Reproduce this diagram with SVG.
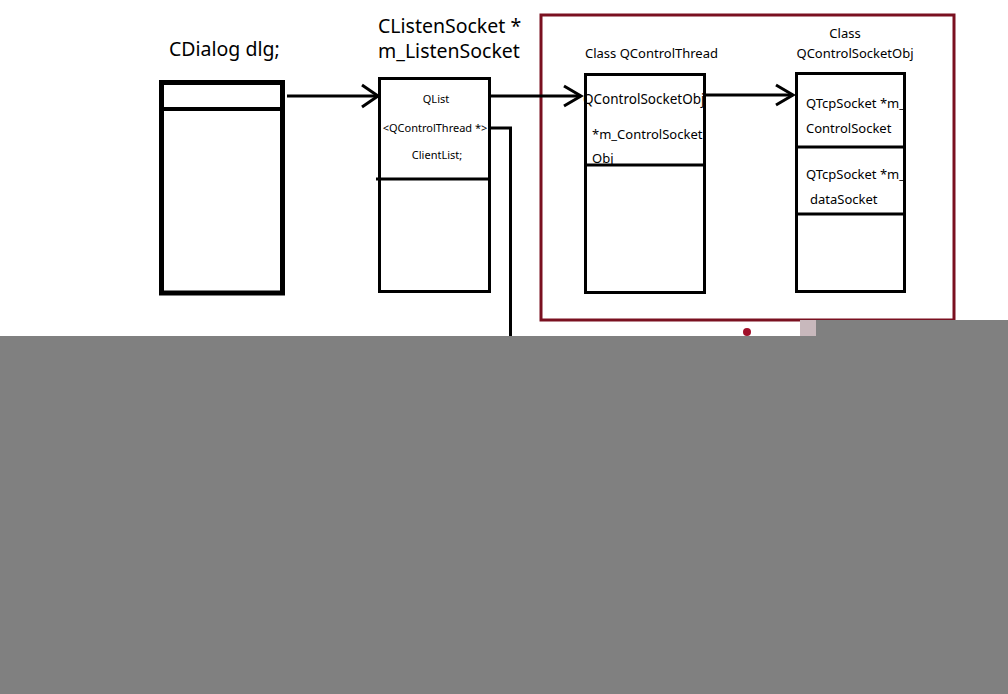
<svg xmlns="http://www.w3.org/2000/svg" width="1008" height="694" viewBox="0 0 1008 694">
<style>
.box{fill:#fff;stroke:#000;stroke-width:3}
.thick{fill:#fff;stroke:#000;stroke-width:5}
.ln{fill:none;stroke:#000;stroke-width:3}
.big{font-family:"Noto Sans","DejaVu Sans",sans-serif;font-size:19.5px;fill:#000}
.mid{font-family:"Noto Sans","DejaVu Sans",sans-serif;font-size:13px;fill:#000}
.sm{font-family:"Noto Sans","DejaVu Sans",sans-serif;font-size:11px;fill:#000}
</style>
<rect width="1008" height="694" fill="#fff"/>
<g id="frame">
<rect x="541" y="15" width="413" height="305" fill="none" stroke="#7a1020" stroke-width="3"/>
</g>
<g id="dlg">
<text class="big" x="169" y="56">CDialog dlg;</text>
<rect class="thick" x="161.5" y="82.5" width="121" height="210.5"/>
<line x1="161" y1="109" x2="283" y2="109" stroke="#000" stroke-width="4"/>
</g>
<g id="listen">
<text class="big" x="378" y="33">CListenSocket *</text>
<text class="big" x="378" y="58">m_ListenSocket</text>
<rect class="box" x="379.5" y="78.5" width="110" height="213"/>
<line x1="376" y1="179" x2="491" y2="179" stroke="#000" stroke-width="3"/>
<text class="sm" x="436" y="103" text-anchor="middle">QList</text>
<text class="sm" x="435" y="132" text-anchor="middle">&lt;QControlThread *&gt;</text>
<text class="sm" x="437" y="159" text-anchor="middle">ClientList;</text>
</g>
<g id="thread">
<text class="mid" x="585" y="58">Class QControlThread</text>
<rect class="box" x="585.5" y="74.5" width="119" height="218"/>
<line x1="585" y1="165" x2="705" y2="165" stroke="#000" stroke-width="3"/>
<text class="mid" x="583" y="104" style="font-size:13.5px">QControlSocketObj</text>
<text class="mid" x="592" y="139">*m_ControlSocket</text>
<text class="mid" x="592" y="163">Obj</text>
</g>
<g id="sockobj">
<text class="mid" x="845" y="38" text-anchor="middle">Class</text>
<text class="mid" x="855" y="58" text-anchor="middle">QControlSocketObj</text>
<rect class="box" x="796.5" y="73.5" width="108" height="218"/>
<line x1="796" y1="147" x2="905" y2="147" stroke="#000" stroke-width="3"/>
<line x1="796" y1="214" x2="905" y2="214" stroke="#000" stroke-width="3"/>
<text class="mid" x="806" y="108">QTcpSocket *m_</text>
<text class="mid" x="806" y="133">ControlSocket</text>
<text class="mid" x="806" y="179">QTcpSocket *m_</text>
<text class="mid" x="810" y="204">dataSocket</text>
</g>
<g id="connectors">
<polyline class="ln" points="287,96 377,96"/>
<polyline class="ln" points="362,85 378,96 362,107"/>
<polyline class="ln" points="491,96 581,96"/>
<polyline class="ln" points="564,86 581,96 564,106"/>
<polyline class="ln" points="705,95 793,95"/>
<polyline class="ln" points="776,85 793,95 776,105"/>
<polyline class="ln" points="491,128 510.5,128 510.5,340"/>
</g>
<circle cx="747" cy="332" r="4" fill="#a0102a"/>
<rect x="800" y="320" width="16" height="16" fill="#c8b8bc"/>
<rect x="0" y="336" width="1008" height="358" fill="#808080"/>
<rect x="816" y="320" width="192" height="16" fill="#808080"/>
</svg>
